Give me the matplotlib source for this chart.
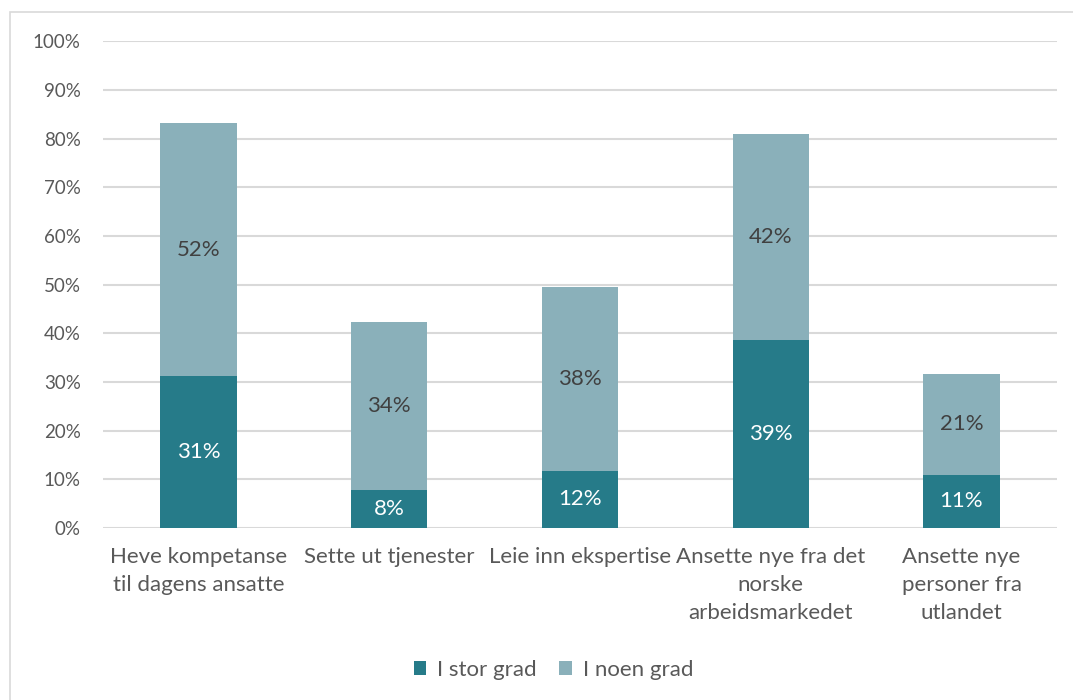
import matplotlib.pyplot as plt
from matplotlib.patches import Rectangle

categories = ["Heve kompetanse\ntil dagens ansatte", "Sette ut tjenester",
              "Leie inn ekspertise", "Ansette nye fra det\nnorske\narbeidsmarkedet",
              "Ansette nye\npersoner fra\nutlandet"]
stor_grad = [31.2, 7.8, 11.7, 38.6, 10.9]
noen_grad = [52.0, 34.4, 37.8, 42.3, 20.7]
series_names = ["I stor grad", "I noen grad"]

plt.rcParams['font.family'] = ['Lato', 'DejaVu Sans']
dark = "#267b89"
light = "#8ab0ba"
txt = "#595959"

fig = plt.figure(figsize=(10.73, 7), dpi=100)
ax = fig.add_axes([0.096, 0.246, 0.889, 0.695])

# outer chart border
fig.patches.append(Rectangle((0.0095, -0.01), 1.0, 0.993, transform=fig.transFigure,
                             fill=False, edgecolor="#d9d9d9", linewidth=1.2))

x = range(len(categories))
b1 = ax.bar(x, stor_grad, width=0.4, color=dark, label=series_names[0], zorder=3)
b2 = ax.bar(x, noen_grad, width=0.4, bottom=stor_grad, color=light,
            label=series_names[1], zorder=3)

for i in x:
    ax.text(i, stor_grad[i] / 2, f"{stor_grad[i]:.0f}%", ha="center", va="center",
            color="white", fontsize=16, zorder=4)
    ax.text(i, stor_grad[i] + noen_grad[i] / 2, f"{noen_grad[i]:.0f}%", ha="center",
            va="center", color="#404040", fontsize=16, zorder=4)

ax.set_xlim(-0.5, len(categories) - 0.5)
ax.set_ylim(0, 100)
ax.set_yticks(range(0, 101, 10))
ax.set_yticklabels([f"{v}%" for v in range(0, 101, 10)])
ax.set_xticks(list(x))
ax.set_xticklabels(categories, linespacing=1.5)
ax.tick_params(axis="both", length=0, labelcolor=txt)
ax.tick_params(axis="y", pad=16, labelsize=13.5)
ax.tick_params(axis="x", pad=14, labelsize=16)
ax.grid(axis="y", color="#d9d9d9", linewidth=1.5, zorder=0)
for s in ax.spines.values():
    s.set_visible(False)

fig.legend(handles=[b1, b2], loc="center", bbox_to_anchor=(0.516, 0.043), ncol=2,
           frameon=False, fontsize=16, labelcolor=txt, handlelength=0.55,
           handleheight=0.55, handletextpad=0.5, columnspacing=1.0)

fig.savefig("out.png", dpi=100)
